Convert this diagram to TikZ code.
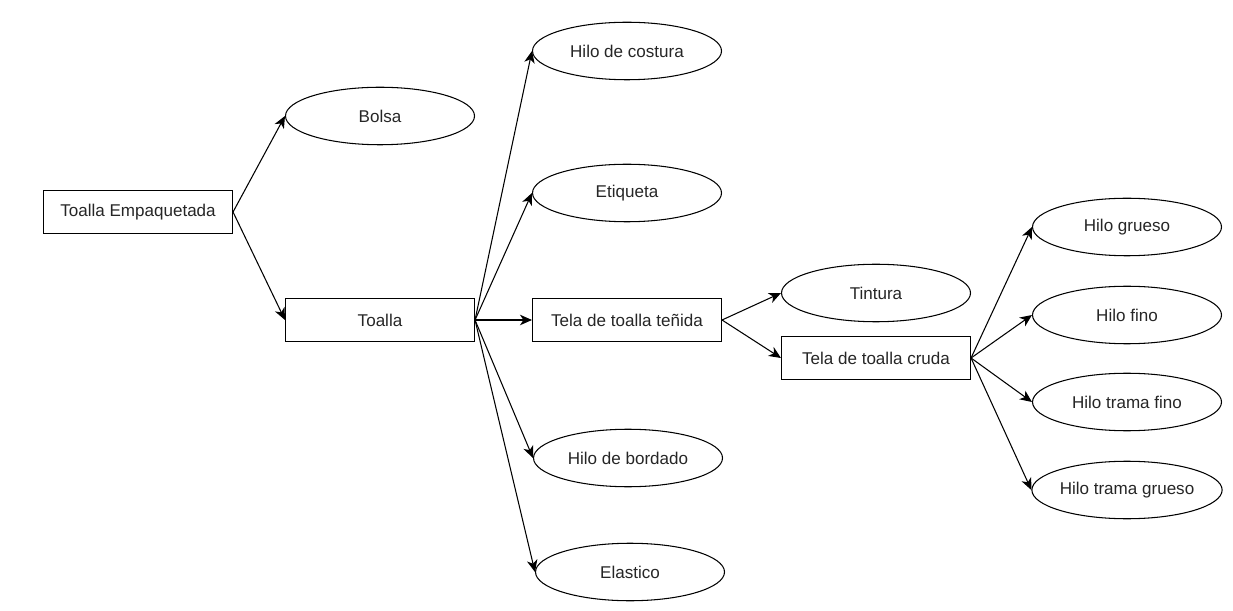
\documentclass[tikz,border=0pt]{standalone}
\usepackage{fontspec}
\setmainfont{Liberation Sans}
\usetikzlibrary{arrows.meta,shapes.geometric}

\begin{document}
\begin{tikzpicture}[>={Stealth[length=2.4mm,width=2.1mm,inset=0.7mm]}, line width=0.6pt,
  caja/.style={draw, rectangle, minimum width=3.78cm, minimum height=0.86cm, inner sep=0pt},
  hoja/.style={draw, ellipse, minimum width=3.78cm, minimum height=1.15cm, inner sep=0pt},
  every node/.style={font=\fontsize{9.7}{11.6}\selectfont, text=black!85}]
  \useasboundingbox (0,0) rectangle (24.66,-12.22);
  \node[caja] (empaq) at (2.76,-4.24) {Toalla Empaquetada};
  \node[hoja] (bolsa) at (7.6,-2.32) {Bolsa};
  \node[caja] (toalla) at (7.6,-6.4) {Toalla};
  \node[hoja] (costura) at (12.54,-1.02) {Hilo de costura};
  \node[hoja] (etiqueta) at (12.54,-3.86) {Etiqueta};
  \node[caja] (tenida) at (12.54,-6.4) {Tela de toalla teñida};
  \node[hoja] (bordado) at (12.56,-9.16) {Hilo de bordado};
  \node[hoja] (elastico) at (12.6,-11.44) {Elastico};
  \node[hoja] (tintura) at (17.52,-5.86) {Tintura};
  \node[caja] (cruda) at (17.52,-7.16) {Tela de toalla cruda};
  \node[hoja] (grueso) at (22.54,-4.54) {Hilo grueso};
  \node[hoja] (fino) at (22.54,-6.3) {Hilo fino};
  \node[hoja] (tfino) at (22.54,-8.04) {Hilo trama fino};
  \node[hoja] (tgrueso) at (22.54,-9.8) {Hilo trama grueso};
  \draw[->] (empaq.east) -- (bolsa.west);
  \draw[->] (empaq.east) -- (toalla.west);
  \draw[->] (toalla.east) -- (costura.west);
  \draw[->] (toalla.east) -- (etiqueta.west);
  \draw[->] (toalla.east) -- (tenida.west);
  \draw[->] (toalla.east) -- (bordado.west);
  \draw[->] (toalla.east) -- (elastico.west);
  \draw[->] (tenida.east) -- (tintura.west);
  \draw[->] (tenida.east) -- (cruda.west);
  \draw[->] (cruda.east) -- (grueso.west);
  \draw[->] (cruda.east) -- (fino.west);
  \draw[->] (cruda.east) -- (tfino.west);
  \draw[->] (cruda.east) -- (tgrueso.west);
\end{tikzpicture}
\end{document}
